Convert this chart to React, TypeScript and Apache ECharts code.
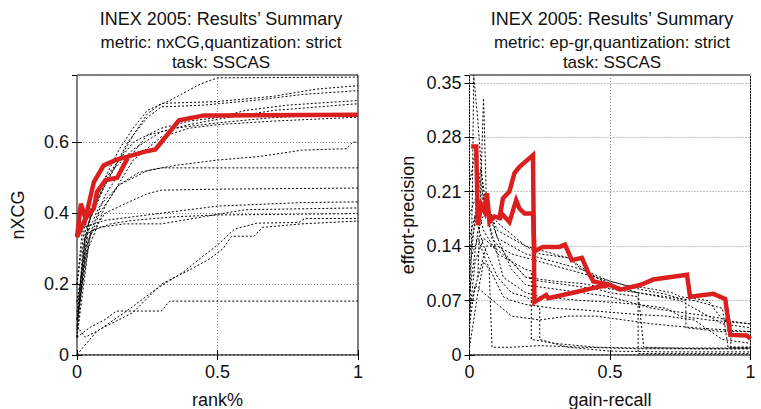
import React, { useEffect, useRef } from "react";
import * as echarts from "echarts";

type P = [number, number];

// ---------- text ----------
const leftTitle = ["INEX 2005: Results’ Summary", "metric: nxCG,quantization: strict", "task: SSCAS"];
const rightTitle = ["INEX 2005: Results’ Summary", "metric: ep-gr,quantization: strict", "task: SSCAS"];
const leftXName = "rank%";
const leftYName = "nXCG";
const rightXName = "gain-recall";
const rightYName = "effort-precision";

// ---------- left panel (nxCG) ----------
const nxcgRuns: P[][] = [
  [[0, 0.05], [0.02, 0.3], [0.05, 0.4], [0.1, 0.5], [0.15, 0.58], [0.2, 0.64], [0.25, 0.69], [0.33, 0.718], [0.44, 0.765], [0.5, 0.782], [1, 0.784]],
  [[0, 0.1], [0.03, 0.35], [0.08, 0.45], [0.15, 0.55], [0.2, 0.62], [0.25, 0.68], [0.3, 0.71], [0.5, 0.715], [0.7, 0.73], [0.85, 0.75], [1, 0.76]],
  [[0, 0.08], [0.04, 0.37], [0.1, 0.48], [0.18, 0.6], [0.25, 0.67], [0.3, 0.7], [0.45, 0.705], [0.65, 0.72], [0.8, 0.735], [1, 0.746]],
  [[0, 0.15], [0.05, 0.4], [0.12, 0.52], [0.2, 0.6], [0.3, 0.64], [0.4, 0.66], [0.5, 0.67], [0.6, 0.69], [0.75, 0.705], [1, 0.718]],
  [[0, 0.2], [0.03, 0.38], [0.1, 0.5], [0.2, 0.58], [0.3, 0.63], [0.4, 0.65], [0.5, 0.665], [0.7, 0.69], [1, 0.709]],
  [[0, 0.1], [0.05, 0.35], [0.1, 0.45], [0.18, 0.55], [0.25, 0.62], [0.35, 0.64], [0.5, 0.655], [0.7, 0.67], [1, 0.68]],
  [[0, 0.05], [0.04, 0.3], [0.1, 0.42], [0.2, 0.55], [0.3, 0.615], [0.4, 0.64], [0.5, 0.65], [0.7, 0.66], [1, 0.671]],
  [[0, 0.05], [0.03, 0.3], [0.08, 0.4], [0.15, 0.48], [0.25, 0.52], [0.35, 0.535], [0.5, 0.55], [0.65, 0.56], [0.8, 0.578], [0.96, 0.582], [0.98, 0.6], [1, 0.601]],
  [[0, 0.12], [0.03, 0.33], [0.08, 0.42], [0.15, 0.48], [0.22, 0.515], [0.3, 0.528], [1, 0.528]],
  [[0, 0.1], [0.04, 0.33], [0.1, 0.4], [0.18, 0.43], [0.25, 0.455], [0.3, 0.465], [0.5, 0.468], [1, 0.471]],
  [[0, 0.2], [0.02, 0.36], [0.1, 0.38], [0.2, 0.39], [0.3, 0.4], [0.5, 0.42], [0.8, 0.43], [1, 0.432]],
  [[0, 0.07], [0.03, 0.34], [0.08, 0.36], [0.17, 0.37], [0.3, 0.37], [0.45, 0.39], [0.6, 0.41], [1, 0.415]],
  [[0, 0.15], [0.05, 0.35], [0.12, 0.37], [0.2, 0.38], [0.35, 0.39], [0.5, 0.395], [1, 0.399]],
  [[0, 0.0], [0.02, 0.02], [0.07, 0.066], [0.17, 0.12], [0.28, 0.185], [0.38, 0.235], [0.45, 0.28], [0.5, 0.31], [0.56, 0.355], [0.64, 0.372], [0.79, 0.374], [0.81, 0.385], [1, 0.385]],
  [[0, 0.08], [0.03, 0.05], [0.1, 0.08], [0.2, 0.12], [0.3, 0.2], [0.4, 0.24], [0.47, 0.27], [0.52, 0.3], [0.55, 0.335], [0.63, 0.335], [0.66, 0.36], [0.8, 0.37], [1, 0.378]],
  [[0, 0.05], [0.05, 0.08], [0.1, 0.1], [0.14, 0.124], [0.3, 0.124], [0.33, 0.152], [1, 0.152]],
  [[0, 0], [1, 0]],
];
const nxcgRedA: P[] = [[0, 0.333], [0.014, 0.427], [0.03, 0.385], [0.06, 0.488], [0.095, 0.535], [0.143, 0.552], [0.178, 0.559], [0.238, 0.573], [0.279, 0.58], [0.315, 0.615], [0.363, 0.662], [0.452, 0.676], [0.5, 0.676], [1, 0.678]];
const nxcgRedB: P[] = [[0, 0.333], [0.03, 0.385], [0.06, 0.413], [0.071, 0.46], [0.101, 0.493], [0.143, 0.5], [0.166, 0.535], [0.18, 0.555]];

// ---------- right panel (ep-gr) ----------
const epgrRuns: P[][] = [
  [[0, 0.02], [0.01, 0.2], [0.015, 0.36], [0.03, 0.3], [0.05, 0.2], [0.08, 0.15], [0.15, 0.12], [0.2, 0.1], [0.25, 0.095], [0.35, 0.09], [0.45, 0.085], [0.5, 0.08], [0.6, 0.075], [0.6, 0.002], [1, 0.002]],
  [[0.03, 0.1], [0.05, 0.33], [0.06, 0.2], [0.1, 0.15], [0.2, 0.13], [0.3, 0.12], [0.4, 0.11], [0.5, 0.09], [0.6, 0.08], [0.75, 0.07], [0.9, 0.04], [1, 0.035]],
  [[0, 0.22], [0.02, 0.26], [0.05, 0.2], [0.1, 0.16], [0.15, 0.15], [0.25, 0.13], [0.35, 0.125], [0.45, 0.1], [0.55, 0.085], [0.6, 0.08], [0.7, 0.075], [0.8, 0.07], [0.9, 0.06], [0.92, 0.01], [1, 0.01]],
  [[0, 0.1], [0.03, 0.22], [0.07, 0.17], [0.12, 0.1], [0.2, 0.08], [0.25, 0.075], [0.4, 0.07], [0.5, 0.068], [0.6, 0.065], [0.7, 0.06], [0.75, 0.05], [0.85, 0.045], [1, 0.04]],
  [[0, 0.01], [0.03, 0.08], [0.05, 0.12], [0.07, 0.11], [0.08, 0.01], [0.15, 0.01], [0.25, 0.012], [0.4, 0.01], [0.6, 0.008], [1, 0.008]],
  [[0, 0.15], [0.02, 0.18], [0.05, 0.14], [0.1, 0.1], [0.15, 0.08], [0.2, 0.075], [0.22, 0.07], [0.25, 0.06], [0.25, 0.02], [0.35, 0.01], [0.5, 0.005], [0.7, 0.004], [1, 0.004]],
  [[0, 0.05], [0.02, 0.12], [0.05, 0.15], [0.1, 0.135], [0.15, 0.12], [0.2, 0.1], [0.3, 0.095], [0.4, 0.092], [0.5, 0.085], [0.6, 0.08], [0.62, 0.01], [0.8, 0.008], [1, 0.008]],
  [[0, 0.08], [0.03, 0.16], [0.06, 0.19], [0.1, 0.17], [0.2, 0.14], [0.3, 0.13], [0.35, 0.125], [0.4, 0.11], [0.5, 0.095], [0.6, 0.085], [0.7, 0.078], [0.77, 0.07], [0.77, 0.035], [0.9, 0.03], [1, 0.03]],
  [[0, 0.04], [0.02, 0.09], [0.05, 0.08], [0.1, 0.065], [0.15, 0.05], [0.25, 0.045], [0.35, 0.05], [0.45, 0.05], [0.55, 0.045], [0.65, 0.04], [0.8, 0.035], [1, 0.03]],
  [[0, 0.12], [0.03, 0.15], [0.06, 0.12], [0.1, 0.09], [0.12, 0.075], [0.15, 0.07], [0.2, 0.065], [0.3, 0.06], [0.4, 0.058], [0.5, 0.055], [0.6, 0.052], [0.7, 0.05], [0.8, 0.045], [0.9, 0.02], [1, 0.015]],
  [[0, 0.18], [0.02, 0.2], [0.05, 0.16], [0.1, 0.13], [0.15, 0.12], [0.2, 0.11], [0.22, 0.108], [0.22, 0.02], [0.3, 0.015], [0.45, 0.01], [0.6, 0.009], [1, 0.009]],
  [[0, 0], [1, 0]],
  [[0, 0.06], [0.03, 0.1], [0.06, 0.14], [0.1, 0.14], [0.15, 0.13], [0.25, 0.12], [0.35, 0.11], [0.45, 0.1], [0.55, 0.09], [0.65, 0.085], [0.72, 0.08], [0.75, 0.075], [0.85, 0.07], [0.9, 0.045], [1, 0.04]],
  [[0, 0.13], [0.02, 0.17], [0.04, 0.24], [0.06, 0.19], [0.1, 0.15], [0.15, 0.11], [0.2, 0.09], [0.3, 0.085], [0.4, 0.08], [0.5, 0.075], [0.55, 0.07], [0.65, 0.06], [0.75, 0.055], [0.85, 0.05], [0.93, 0.045], [0.93, 0.01], [1, 0.01]],
];
const epgrRedA: P[] = [[0.006, 0.268], [0.024, 0.268], [0.03, 0.167], [0.042, 0.193], [0.054, 0.184], [0.062, 0.208], [0.071, 0.171], [0.089, 0.178], [0.107, 0.176], [0.119, 0.2015], [0.142, 0.21], [0.16, 0.234], [0.178, 0.242], [0.226, 0.257], [0.231, 0.068], [0.273, 0.077], [0.28, 0.073], [0.38, 0.081], [0.45, 0.087], [0.5, 0.09], [0.536, 0.084], [0.607, 0.09], [0.654, 0.097], [0.774, 0.103], [0.785, 0.075], [0.868, 0.0786], [0.91, 0.072], [0.928, 0.0258], [0.987, 0.025], [1, 0.021]];
const epgrRedB: P[] = [[0.107, 0.176], [0.119, 0.18], [0.142, 0.171], [0.166, 0.199], [0.178, 0.188], [0.196, 0.182], [0.226, 0.182], [0.231, 0.133], [0.261, 0.139], [0.32, 0.139], [0.34, 0.142], [0.364, 0.122], [0.4, 0.125], [0.424, 0.105], [0.441, 0.0945], [0.5, 0.09]];

// ---------- axes ----------
const leftYMax = 0.79;
const leftYStep = 0.2;
const rightYMax = 0.36;
const rightYStep = 0.07;
const xStep = 0.5;

const FONT = "Liberation Sans, Arial, Helvetica, sans-serif";
const RED = "#db1f1f";

export default function App() {
  const ref = useRef<HTMLDivElement>(null);

  useEffect(() => {
    if (!ref.current) return;
    const chart = echarts.init(ref.current, undefined, { renderer: "svg" });

    const grids = [
      { left: 77, top: 75, width: 281, height: 280 },
      { left: 469.5, top: 75, width: 281, height: 280 },
    ];

    const splitLine = { show: true, lineStyle: { color: "#888", type: [1, 2] as any, width: 1 } };
    const tick = { show: true, inside: true, length: 5, lineStyle: { color: "#000" } };
    const label = { color: "#111", fontSize: 18, fontFamily: FONT };
    const nameStyle = { color: "#111", fontSize: 18, fontFamily: FONT };

    const xAxes: any[] = [];
    const yAxes: any[] = [];
    [0, 1].forEach((g) => {
      const isLeft = g === 0;
      xAxes.push({
        type: "value", gridIndex: g, min: 0, max: 1, interval: xStep, position: "bottom",
        axisLine: { show: false }, axisTick: tick, splitLine,
        axisLabel: { ...label, margin: 8, formatter: (v: number) => String(v) },
        name: isLeft ? leftXName : rightXName, nameLocation: "middle", nameGap: 36, nameTextStyle: nameStyle,
      });
      xAxes.push({
        type: "value", gridIndex: g, min: 0, max: 1, interval: xStep, position: "top",
        axisLine: { show: false }, axisTick: tick, splitLine: { show: false }, axisLabel: { show: false },
      });
      const ymax = isLeft ? leftYMax : rightYMax;
      const ystep = isLeft ? leftYStep : rightYStep;
      yAxes.push({
        type: "value", gridIndex: g, min: 0, max: ymax, interval: ystep, position: "left",
        axisLine: { show: false }, axisTick: tick, splitLine,
        axisLabel: { ...label, margin: 8, showMaxLabel: false, formatter: (v: number) => String(+v.toFixed(2)) },
        name: isLeft ? leftYName : rightYName, nameLocation: "middle", nameRotate: 90,
        nameGap: isLeft ? 50 : 53, nameTextStyle: nameStyle,
      });
      yAxes.push({
        type: "value", gridIndex: g, min: 0, max: ymax, interval: ystep, position: "right",
        axisLine: { show: false }, axisTick: tick, splitLine: { show: false }, axisLabel: { show: false },
      });
    });

    const blackLine = (data: P[], g: number) => ({
      type: "line", data, xAxisIndex: g * 2, yAxisIndex: g * 2, symbol: "none", silent: true,
      lineStyle: { color: "#000", width: 1, type: [2, 2] },
    });
    const redLine = (data: P[], g: number) => ({
      type: "line", data, xAxisIndex: g * 2, yAxisIndex: g * 2, symbol: "none", silent: true, z: 5,
      lineStyle: { color: RED, width: 4.5, join: "miter" },
    });

    const series: any[] = [
      ...nxcgRuns.map((d) => blackLine(d, 0)),
      ...epgrRuns.map((d) => blackLine(d, 1)),
      redLine(nxcgRedB, 0), redLine(nxcgRedA, 0),
      redLine(epgrRedB, 1), redLine(epgrRedA, 1),
    ];

    const titleText = (lines: string[], cx: number) => [
      { type: "text", x: cx, y: 19, style: { text: lines[0], fontSize: 18, fontFamily: FONT, fill: "#111", align: "center", verticalAlign: "middle" } },
      { type: "text", x: cx, y: 42, style: { text: lines[1], fontSize: 17, fontFamily: FONT, fill: "#111", align: "center", verticalAlign: "middle" } },
      { type: "text", x: cx, y: 62, style: { text: lines[2], fontSize: 17, fontFamily: FONT, fill: "#111", align: "center", verticalAlign: "middle" } },
    ];

    chart.setOption({
      animation: false,
      backgroundColor: "#fff",
      grid: grids.map((g) => ({ ...g, outerBoundsMode: "none", containLabel: false, show: true, borderColor: "#000", borderWidth: 1, backgroundColor: "transparent" })),
      xAxis: xAxes,
      yAxis: yAxes,
      series,
      graphic: [...titleText(leftTitle, 221), ...titleText(rightTitle, 612)],
    });

    return () => chart.dispose();
  }, []);

  return <div ref={ref} style={{ position: "absolute", left: 0, top: 0, width: 761, height: 409 }} />;
}
